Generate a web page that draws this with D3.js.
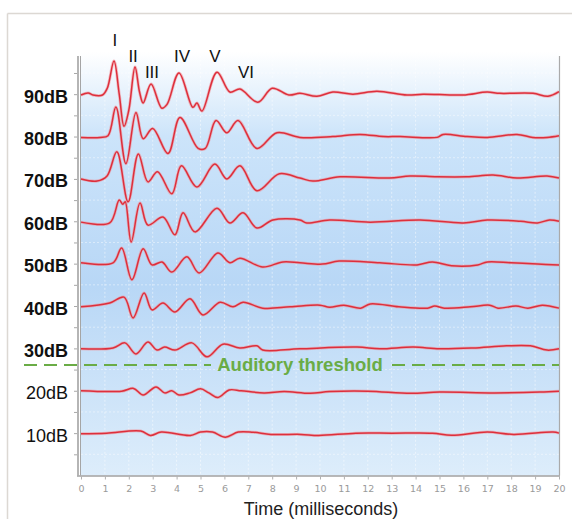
<!DOCTYPE html>
<html>
<head>
<meta charset="utf-8">
<script src="https://cdn.jsdelivr.net/npm/d3@7"></script>
<style>
body { margin: 0; background: #fff; }
svg { display: block; font-family: Arial, "Liberation Sans", sans-serif; }
</style>
</head>
<body>
<div id="chart"></div>
<script>
// stimulus levels (dB) drawn as stacked traces, top to bottom
var levels = [90, 80, 70, 60, 50, 40, 30, 20, 10];
var boldLevels = [90, 80, 70, 60, 50, 40, 30];
var timeTicks = d3.range(0, 21);

// each trace: [time ms, deflection in dB units from its level]
var wave90 = [[0,-0.2],[0.3,0.3],[0.5,-0.2],[0.9,-0.2],[1.1,1.4],[1.38,7.8],[1.6,0],[1.8,-7.6],[2.0,-3.8],[2.26,6.4],[2.45,0.5],[2.6,-2.1],[2.93,2.4],[3.38,-3.3],[3.6,-2.4],[4.1,5.0],[4.68,-3.1],[4.85,-2.1],[5.06,-4.0],[5.69,5.2],[6.23,0.5],[6.65,1.2],[7.4,-1.9],[8.0,1.4],[8.7,-0.2],[9.16,0.2],[9.87,-0.5],[10.54,0.5],[11.38,0],[12.38,0.7],[13.64,-0.2],[14.31,0],[15.98,-0.2],[16.99,0.5],[17.53,0.2],[18.91,0.2],[19.54,-0.5],[20,0.6]];
var wave80 = [[0,-0.2],[0.8,-0.2],[1.13,0.2],[1.46,7.0],[1.88,-6.4],[2.3,5.7],[2.6,-0.5],[3.0,1.9],[3.64,-4.0],[4.14,4.5],[4.9,-2.8],[5.2,-2.8],[5.65,3.8],[6.1,0.9],[6.57,3.8],[7.36,-2.8],[8.2,0.9],[9.16,-0.2],[10.54,0],[11.67,0.5],[12.64,0],[13.35,0],[14.9,-0.2],[15.15,0.5],[16.15,0],[17,-0.2],[18.24,0.5],[18.9,-0.2],[19.5,-0.2],[20,0.2]];
var wave70 = [[0,0],[0.67,-0.5],[1.09,0.7],[1.5,6.4],[1.97,-5.4],[2.4,5.9],[2.8,-0.7],[3.2,1.7],[3.8,-3.5],[4.2,3.1],[4.85,-1.9],[5.6,3.5],[6.1,0],[6.65,3.1],[7.36,-2.8],[8.3,1.2],[9.16,0.2],[9.7,-0.5],[10.84,0.5],[12.9,0.2],[13.77,0.7],[14.9,0.5],[16.15,0.5],[17.24,0.9],[18.24,0.2],[19.5,0.7],[20,0.2]];
var wave60 = [[0,-0.2],[1.2,-0.4],[1.6,5.0],[1.75,4.0],[1.85,4.6],[2.1,-4.9],[2.47,4.3],[2.8,-0.9],[3.43,1.0],[3.93,-3.2],[4.27,2.0],[4.77,-2.5],[5.69,3.1],[6.23,-0.4],[6.78,2.0],[7.36,-1.6],[8.03,0.3],[9.16,0.3],[9.45,-0.4],[10.4,0.3],[12.1,-0.2],[14.2,0.3],[16,-0.4],[17,0.3],[18.4,0],[19.1,-0.4],[19.6,0.3],[20,0]];
var wave50 = [[0,0.2],[1.34,0.2],[1.7,3.7],[2.13,-3.8],[2.6,3.5],[2.97,-0.3],[3.39,0.4],[3.8,-2.0],[4.43,1.6],[4.94,-2.2],[5.73,2.5],[6.23,0.2],[6.65,1.3],[7.6,-0.8],[8.45,0.4],[9.16,0.2],[10.1,-0.1],[10.8,0.6],[12.5,0.2],[14.06,-0.3],[14.7,0.4],[15.5,-0.5],[16.6,-0.3],[17,0.4],[18,0.2],[19.1,-0.1],[20,-0.3]];
var wave40 = [[0,-0.2],[1.2,0.7],[1.8,2.1],[2.18,-2.8],[2.64,3.1],[2.97,-0.9],[3.43,0.7],[3.93,-1.4],[4.56,1.7],[5.1,-2.1],[5.82,0.9],[6.36,-0.2],[6.78,0.9],[7.6,-0.5],[8.75,-0.2],[10,0.2],[10.4,-0.3],[11,0.2],[11.7,-0.5],[12.1,0.5],[13.3,-0.2],[14.5,-0.5],[14.8,0],[15.2,-0.5],[16.3,-0.2],[17.1,0.2],[17.45,-0.5],[18.2,0],[18.7,-0.5],[19.3,0.2],[20,-0.5]];
var wave30 = [[0,-0.1],[1.34,0.1],[1.84,1.3],[2.3,-1.3],[2.8,1.5],[3.18,-0.4],[3.5,0.3],[3.93,-0.4],[4.64,1.3],[5.27,-2.0],[5.94,1.0],[6.65,0.1],[7.36,0.6],[7.6,-0.4],[9.16,-0.1],[11.55,0.3],[12.5,-0.1],[13.9,0.3],[15,-0.1],[16.4,0.1],[17.8,0.6],[18.8,0.6],[19.5,-0.4],[20,-0.1]];
var wave20 = [[0,0],[1.7,-0.1],[2.2,0.55],[2.6,-1.0],[3.14,0.9],[3.5,-0.5],[3.8,0],[4.1,-1.0],[4.56,-0.5],[5.0,0.45],[5.35,-0.5],[5.73,-1.6],[6.2,0.2],[6.7,0],[7.66,-0.5],[8.5,-0.2],[9.6,-0.6],[10.4,-0.2],[12,-0.1],[13.8,-0.6],[15,-0.3],[17.3,-0.5],[19.2,-0.3],[20,-0.1]];
var wave10 = [[0,-0.15],[1.07,0],[2.5,0.5],[2.9,-0.55],[3.36,0.25],[4.58,-0.55],[5.0,0.25],[5.5,0.25],[6.04,-0.95],[6.58,0.25],[7.2,0.2],[7.95,-0.3],[9.2,-0.3],[9.95,-0.55],[11.5,0],[13,0],[14.7,0],[15.5,-0.5],[17,0.25],[18.1,-0.3],[19.75,0.25],[20,0]];
var waves = [wave90, wave80, wave70, wave60, wave50, wave40, wave30, wave20, wave10];

// wave peak labels (time ms, height in dB)
var peakNames = ["I", "II", "III", "IV", "V", "VI"];
var peakTimes = [1.42, 2.18, 2.97, 4.23, 5.6, 6.9];
var peakHeights = [101.4, 97.6, 93.9, 97.6, 97.6, 93.9];

var thresholdLevel = 26.1;
var thresholdLabel = "Auditory threshold";

var width = 572, height = 519;

var svg = d3.select("#chart").append("svg")
    .attr("width", width)
    .attr("height", height);

var x = d3.scaleLinear().domain([0, 20]).range([81, 559]);
var y = d3.scaleLinear().domain([0, 100]).range([475.5, 51.8]);

var defs = svg.append("defs");
var grad = defs.append("linearGradient")
    .attr("id", "bg")
    .attr("x1", 0).attr("y1", 0).attr("x2", 0).attr("y2", 1);
grad.append("stop").attr("offset", "0%").attr("stop-color", "#ffffff");
grad.append("stop").attr("offset", "20%").attr("stop-color", "#cce4fa");
grad.append("stop").attr("offset", "55%").attr("stop-color", "#b8d7f6");
grad.append("stop").attr("offset", "100%").attr("stop-color", "#ddedfb");

// outer frame
svg.append("line").attr("x1", 7.5).attr("x2", width).attr("y1", 13.5).attr("y2", 13.5)
    .attr("stroke", "#dcd8d3").attr("stroke-width", 1.5);
svg.append("line").attr("x1", 7.5).attr("x2", 7.5).attr("y1", 13.5).attr("y2", height)
    .attr("stroke", "#dcd8d3").attr("stroke-width", 1.5);

// plot background
svg.append("rect")
    .attr("x", x(0)).attr("y", y(100))
    .attr("width", x(20) - x(0)).attr("height", y(0) - y(100))
    .attr("fill", "url(#bg)");

// faint grid
svg.append("g").selectAll("line")
    .data(timeTicks.slice(1, 20))
    .enter().append("line")
    .attr("x1", d => x(d)).attr("x2", d => x(d))
    .attr("y1", y(100)).attr("y2", y(0))
    .attr("stroke", "#ffffff").attr("stroke-opacity", 0.5)
    .attr("stroke-dasharray", "2,2");
svg.append("g").selectAll("line")
    .data(d3.range(5, 100, 10))
    .enter().append("line")
    .attr("x1", x(0)).attr("x2", x(20))
    .attr("y1", d => y(d)).attr("y2", d => y(d))
    .attr("stroke", "#ffffff").attr("stroke-opacity", 0.45)
    .attr("stroke-dasharray", "2,2");

// axes frame
svg.append("line").attr("x1", 78).attr("x2", 78).attr("y1", 56).attr("y2", y(0))
    .attr("stroke", "#b5b5b5").attr("stroke-width", 2);
svg.append("line").attr("x1", 80.5).attr("x2", 80.5).attr("y1", 56).attr("y2", y(0))
    .attr("stroke", "#a5a5a5").attr("stroke-width", 1);
svg.append("line").attr("x1", x(20) + 0.5).attr("x2", x(20) + 0.5).attr("y1", 56).attr("y2", y(0))
    .attr("stroke", "#aaaaaa").attr("stroke-width", 1.2);
svg.append("line").attr("x1", 77).attr("x2", x(20) + 1).attr("y1", y(0) + 0.5).attr("y2", y(0) + 0.5)
    .attr("stroke", "#a0a0a0").attr("stroke-width", 1.5);

var yAxis = svg.append("g")
    .attr("transform", "translate(77,0)")
    .call(d3.axisLeft(y).tickValues(d3.range(5, 100, 5)).tickSize(3).tickFormat(""));
yAxis.select(".domain").remove();
yAxis.selectAll("line").attr("stroke", "#a8a8a8");

var xAxis = svg.append("g")
    .attr("transform", "translate(0," + (y(0) + 1) + ")")
    .call(d3.axisBottom(x).tickValues(timeTicks).tickSize(3).tickPadding(6));
xAxis.select(".domain").remove();
xAxis.selectAll("line").attr("stroke", "#b0b0b0");
xAxis.selectAll("text")
    .attr("fill", "#9a9a9a")
    .style("font-family", "'DejaVu Sans', sans-serif")
    .style("font-size", "9.5px");

// traces
var line = d3.line()
    .x(d => x(d[0]))
    .y(d => y(d[1]))
    .curve(d3.curveCatmullRom.alpha(0.5));

levels.forEach(function (lv, i) {
    var pts = waves[i].map(d => [d[0], lv + d[1]]);
    svg.append("path")
        .datum(pts)
        .attr("d", line)
        .attr("fill", "none")
        .attr("stroke", "#f28a8f")
        .attr("stroke-opacity", 0.55)
        .attr("stroke-width", 3);
    svg.append("path")
        .datum(pts)
        .attr("d", line)
        .attr("fill", "none")
        .attr("stroke", "#dd2f3c")
        .attr("stroke-width", 1.5);
});

// level labels
svg.append("g").selectAll("text")
    .data(levels)
    .enter().append("text")
    .attr("x", 68)
    .attr("y", d => y(d) + 8.5)
    .attr("text-anchor", "end")
    .style("font-size", "18px")
    .style("font-weight", d => boldLevels.indexOf(d) >= 0 ? "bold" : "normal")
    .attr("fill", "#111")
    .text(d => d + "dB");

// peak labels
svg.append("g").selectAll("text")
    .data(peakNames)
    .enter().append("text")
    .attr("x", (d, i) => x(peakTimes[i]))
    .attr("y", (d, i) => y(peakHeights[i]))
    .attr("text-anchor", "middle")
    .style("font-size", "17px")
    .attr("fill", "#111")
    .text(d => d);

// threshold
var ty = y(thresholdLevel);
svg.append("line").attr("x1", 24).attr("x2", 211).attr("y1", ty).attr("y2", ty)
    .attr("stroke", "#6aac46").attr("stroke-width", 2).attr("stroke-dasharray", "13,7");
svg.append("line").attr("x1", 392).attr("x2", x(20)).attr("y1", ty).attr("y2", ty)
    .attr("stroke", "#6aac46").attr("stroke-width", 2).attr("stroke-dasharray", "13,7");
svg.append("text")
    .attr("x", 300).attr("y", ty + 6.5)
    .attr("text-anchor", "middle")
    .style("font-size", "18.5px")
    .style("font-weight", "bold")
    .attr("fill", "#6aac46")
    .text(thresholdLabel);

svg.append("text")
    .attr("x", 321).attr("y", 515)
    .attr("text-anchor", "middle")
    .style("font-size", "18px")
    .attr("fill", "#222")
    .text("Time (milliseconds)");
</script>
</body>
</html>
